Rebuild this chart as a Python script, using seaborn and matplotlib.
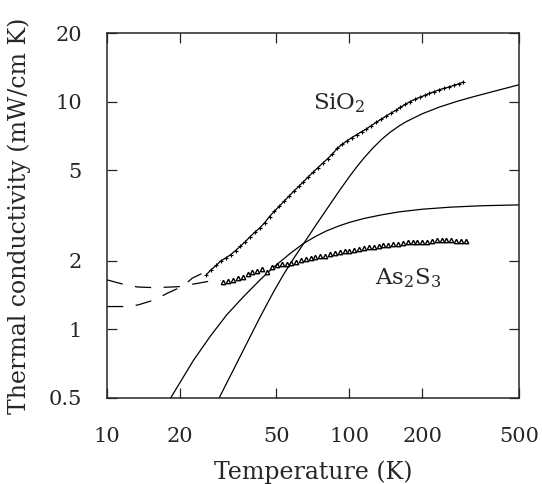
import numpy as np
import pandas as pd
import seaborn as sns
import matplotlib
matplotlib.use("Agg")
import matplotlib.pyplot as plt

# --- data (T in K, kappa in mW/cm K) ---
sio2_T = [25.7, 26.9, 28.2, 29.5, 30.9, 32.4, 33.9, 35.5, 37.2, 38.9, 40.7, 42.7,
          44.7, 46.8, 49.0, 51.3, 53.7, 56.2, 58.9, 61.7, 64.6, 67.6, 70.8, 74.1,
          77.6, 81.3, 85.1, 89.1, 93.3, 97.7, 102.3, 107.2, 112.2, 117.5, 123.0,
          128.8, 134.9, 141.3, 147.9, 154.9, 162.2, 169.8, 177.8, 186.2, 195.0,
          204.2, 213.8, 223.9, 234.4, 245.5, 257.0, 269.2, 281.8, 295.1]
sio2_k = [1.74, 1.83, 1.91, 2.00, 2.06, 2.13, 2.22, 2.32, 2.43, 2.55, 2.67, 2.79,
          2.94, 3.13, 3.30, 3.47, 3.65, 3.84, 4.04, 4.24, 4.45, 4.67, 4.90, 5.13,
          5.37, 5.62, 5.89, 6.24, 6.49, 6.73, 6.95, 7.16, 7.38, 7.59, 7.85,
          8.11, 8.36, 8.63, 8.89, 9.14, 9.44, 9.72, 10.0, 10.23, 10.45,
          10.64, 10.86, 11.07, 11.27, 11.43, 11.59, 11.78, 11.97, 12.19]

as2s3_T = [30.2, 31.6, 33.1, 34.7, 36.3, 38.0, 39.8, 41.7, 43.7, 45.7, 47.9, 50.1,
           52.5, 55.0, 57.5, 60.3, 63.1, 66.1, 69.2, 72.4, 75.9, 79.4, 83.2, 87.1,
           91.2, 95.5, 100.0, 104.7, 109.6, 114.8, 120.2, 125.9, 131.8, 138.0,
           144.5, 151.4, 158.5, 166.0, 173.8, 182.0, 190.5, 199.5, 208.9, 218.8,
           229.1, 239.9, 251.2, 263.0, 275.4, 288.4, 302.0]
as2s3_k = [1.61, 1.63, 1.65, 1.68, 1.70, 1.75, 1.78, 1.80, 1.84, 1.79, 1.88, 1.92,
           1.93, 1.94, 1.96, 1.98, 2.01, 2.03, 2.05, 2.07, 2.10, 2.11, 2.14, 2.16,
           2.18, 2.20, 2.22, 2.24, 2.26, 2.27, 2.29, 2.31, 2.33, 2.34,
           2.35, 2.36, 2.37, 2.39, 2.41, 2.42, 2.42, 2.43, 2.43, 2.44,
           2.46, 2.47, 2.46, 2.46, 2.45, 2.45, 2.45]

# model curves (solid)
modelA_T = [18.3, 22.7, 26.6, 31.2, 36.5, 42.8, 48.5, 56.8, 64.5, 72, 80, 90, 100,
            115, 135, 160, 200, 260, 350, 500]
modelA_k = [0.50, 0.73, 0.93, 1.16, 1.39, 1.65, 1.87, 2.15, 2.38, 2.55, 2.70, 2.84, 2.95,
            3.07, 3.18, 3.28, 3.37, 3.44, 3.49, 3.52]
modelB_T = [29.0, 33.2, 37.7, 42.8, 48.5, 53.3, 58.7, 64.5, 74, 84.5, 91.4, 100, 107,
            115, 125, 136, 147, 160, 172, 200, 236, 280, 324, 400, 500]
modelB_k = [0.50, 0.664, 0.868, 1.133, 1.454, 1.732, 2.04, 2.37, 2.95, 3.63, 4.10, 4.69, 5.16,
            5.67, 6.26, 6.84, 7.33, 7.81, 8.18, 8.85, 9.48, 10.05, 10.50, 11.14, 11.85]

# low-temperature dashed extrapolations
dashS_T = [10, 11.9, 13.4, 15.8, 17.7, 20.6, 22.5, 25.2]
dashS_k = [1.26, 1.26, 1.28, 1.35, 1.44, 1.55, 1.68, 1.78]
dashA_T = [10, 11.9, 13.4, 15.8, 19.7, 24.2, 27.4, 29.5]
dashA_k = [1.65, 1.57, 1.535, 1.525, 1.54, 1.60, 1.64, 1.64]

x_ticks = [10, 20, 50, 100, 200, 500]
y_ticks = [0.5, 1, 2, 5, 10, 20]

sns.set_style("ticks")
plt.rcParams["font.family"] = ["DejaVu Serif"]
plt.rcParams["mathtext.fontset"] = "dejavuserif"

fig = plt.figure(figsize=(5.42, 4.84), dpi=100)
ax = fig.add_axes([0.1974, 0.1777, 0.7601, 0.7541])

dash = (0, (13, 10))
sns.lineplot(x=modelA_T, y=modelA_k, ax=ax, color="black", lw=0.9, estimator=None, sort=False)
sns.lineplot(x=modelB_T, y=modelB_k, ax=ax, color="black", lw=0.9, estimator=None, sort=False)
sns.lineplot(x=dashS_T, y=dashS_k, ax=ax, color="black", lw=0.9, linestyle=dash, estimator=None, sort=False)
sns.lineplot(x=dashA_T, y=dashA_k, ax=ax, color="black", lw=0.9, linestyle=dash, estimator=None, sort=False)

sns.lineplot(x=sio2_T, y=sio2_k, ax=ax, color="black", lw=0.9, marker="+",
             markersize=3.5, markeredgewidth=0.8, markeredgecolor="black",
             estimator=None, sort=False)
sns.lineplot(x=as2s3_T, y=as2s3_k, ax=ax, color="black", lw=0, marker="^",
             markersize=3.2, markerfacecolor="white", markeredgecolor="black",
             markeredgewidth=1.0, estimator=None, sort=False)

ax.set_xscale("log")
ax.set_yscale("log")
ax.set_xlim(10, 500)
ax.set_ylim(0.5, 20)
ax.set_xticks(x_ticks)
ax.set_xticklabels([str(t) for t in x_ticks])
ax.set_yticks(y_ticks)
ax.set_yticklabels([("%g" % t) for t in y_ticks])
ax.minorticks_off()
ax.tick_params(which="major", direction="in", length=7, width=0.9,
               top=True, right=True, labelsize=15)
ax.tick_params(axis="x", pad=21)
ax.tick_params(axis="y", pad=18)
for s in ax.spines.values():
    s.set_linewidth(1.1)
    s.set_visible(True)

ax.set_xlabel("Temperature (K)", fontsize=17)
ax.set_ylabel("Thermal conductivity (mW/cm K)", fontsize=17)
ax.xaxis.set_label_coords(0.5, -0.17)
ax.yaxis.set_label_coords(-0.185, 0.5)

ax.text(70.7, 9.86, r"SiO$_2$", fontsize=16.5, ha="left", va="center")
ax.text(127, 1.68, r"As$_2$S$_3$", fontsize=16.5, ha="left", va="center")

fig.savefig("out.png", dpi=100)
